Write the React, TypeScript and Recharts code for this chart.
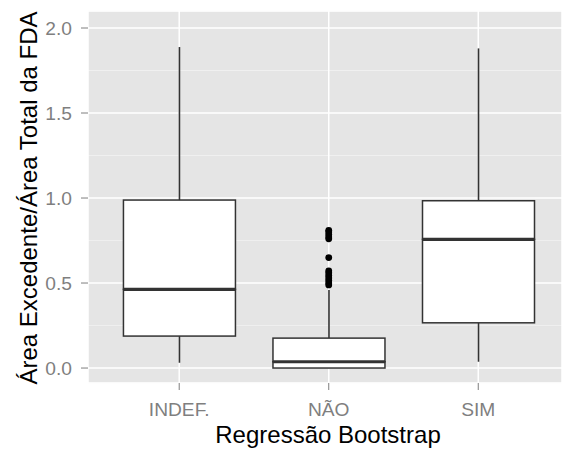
import React from 'react';
import { ComposedChart, Bar, Scatter, XAxis, YAxis, CartesianGrid, Label } from 'recharts';

// ---- data ----
const categories = ['INDEF.', 'NÃO', 'SIM'];
const whiskerLow = [0.031, 0.0, 0.037];
const q1 = [0.188, 0.0, 0.266];
const median = [0.463, 0.037, 0.757];
const q3 = [0.988, 0.176, 0.984];
const whiskerHigh = [1.888, 0.459, 1.88];
const naoOutliers = [0.81, 0.8, 0.785, 0.77, 0.76, 0.65, 0.572, 0.56, 0.545, 0.53, 0.515, 0.5, 0.489];
const yTicks = [0, 0.5, 1, 1.5, 2];
const yMinor = [0.25, 0.75, 1.25, 1.75];
const xTitle = 'Regressão Bootstrap';
const yTitle = 'Área Excedente/Área Total da FDA';

// categories sit at positions 1..n on a continuous axis (as in ggplot's discrete scale)
const xPositions = categories.map((_, i) => i + 1);
const data = categories.map((cat, i) => ({
  x: xPositions[i],
  cat,
  base: whiskerLow[i],
  lowW: q1[i] - whiskerLow[i],
  lowBox: median[i] - q1[i],
  upBox: q3[i] - median[i],
  upW: whiskerHigh[i] - q3[i],
}));
const outlierData = naoOutliers.map((v) => ({ x: categories.indexOf('NÃO') + 1, out: v }));

const FONT = '"Liberation Sans", Arial, Helvetica, sans-serif';
const INK = '#333333';
const TICK_GREY = '#7F7F7F';
const Y_DOMAIN: [number, number] = [-0.088, 2.1];
const X_DOMAIN: [number, number] = [0.39, 3.56];

const Invisible = () => <g />;
const Whisker = (p: any) => {
  const { x, y, width, height } = p;
  if (!(height > 0)) return <g />;
  const cx = x + width / 2;
  return <line x1={cx} x2={cx} y1={y} y2={y + height} stroke={INK} strokeWidth={1.6} />;
};
const LowerBox = (p: any) => {
  const { x, y, width, height } = p;
  return <rect x={x} y={y} width={width} height={Math.max(height, 0)} fill="#FFFFFF" stroke={INK} strokeWidth={1.5} />;
};
const UpperBox = (p: any) => {
  const { x, y, width, height } = p;
  return (
    <g>
      <rect x={x} y={y} width={width} height={Math.max(height, 0)} fill="#FFFFFF" stroke={INK} strokeWidth={1.5} />
      <line x1={x} x2={x + width} y1={y + height} y2={y + height} stroke={INK} strokeWidth={3.2} />
    </g>
  );
};
const Dot = (p: any) => <circle cx={p.cx} cy={p.cy} r={3.4} fill="#000000" />;

const YTitle = (props: any) => {
  const vb = props.viewBox || {};
  const cx = (vb.x || 0) + 37;
  const cy = (vb.y || 0) + (vb.height || 0) / 2 + 1;
  return (
    <text x={cx} y={cy} transform={`rotate(-90, ${cx}, ${cy})`} textAnchor="middle" fontSize={24} fontFamily={FONT} fill="#000000">
      {yTitle}
    </text>
  );
};

export default function App() {
  return (
    <>
      <style>{'html,body{margin:0;padding:0;overflow:hidden;}'}</style>
      <div style={{ width: 562, height: 453 }}>
        <ComposedChart width={562} height={453} data={data} margin={{ top: 11, right: 0, bottom: 0, left: 0 }} barGap={0}>
          <CartesianGrid yAxisId="minor" fill="#E5E5E5" stroke="#F2F2F2" strokeWidth={0.8} vertical={false} />
          <CartesianGrid stroke="#FFFFFF" strokeWidth={1.5} />
          <XAxis
            dataKey="x"
            type="number"
            domain={X_DOMAIN}
            allowDataOverflow
            ticks={xPositions}
            tickFormatter={(v: number) => categories[v - 1] ?? ''}
            height={70}
            axisLine={false}
            tickSize={7}
            tickMargin={12}
            tickLine={{ stroke: TICK_GREY }}
            tick={{ fill: TICK_GREY, fontSize: 19.2, fontFamily: FONT }}
          >
            <Label value={xTitle} position="insideBottom" offset={10} fontSize={24} fontFamily={FONT} fill="#000000" dx={3} />
          </XAxis>
          <YAxis
            type="number"
            domain={Y_DOMAIN}
            allowDataOverflow
            ticks={yTicks}
            tickFormatter={(v: number) => v.toFixed(1)}
            width={88}
            axisLine={false}
            tickSize={7}
            tickMargin={9}
            tickLine={{ stroke: TICK_GREY }}
            tick={{ fill: TICK_GREY, fontSize: 19.2, fontFamily: FONT }}
          >
            <Label content={<YTitle />} />
          </YAxis>
          <YAxis yAxisId="minor" type="number" domain={Y_DOMAIN} allowDataOverflow ticks={yMinor} hide />
          <Bar dataKey="base" stackId="box" barSize={112} shape={<Invisible />} isAnimationActive={false} />
          <Bar dataKey="lowW" stackId="box" barSize={112} shape={<Whisker />} isAnimationActive={false} />
          <Bar dataKey="lowBox" stackId="box" barSize={112} shape={<LowerBox />} isAnimationActive={false} />
          <Bar dataKey="upBox" stackId="box" barSize={112} shape={<UpperBox />} isAnimationActive={false} />
          <Bar dataKey="upW" stackId="box" barSize={112} shape={<Whisker />} isAnimationActive={false} />
          <Scatter data={outlierData} dataKey="out" shape={<Dot />} isAnimationActive={false} />
        </ComposedChart>
      </div>
    </>
  );
}
